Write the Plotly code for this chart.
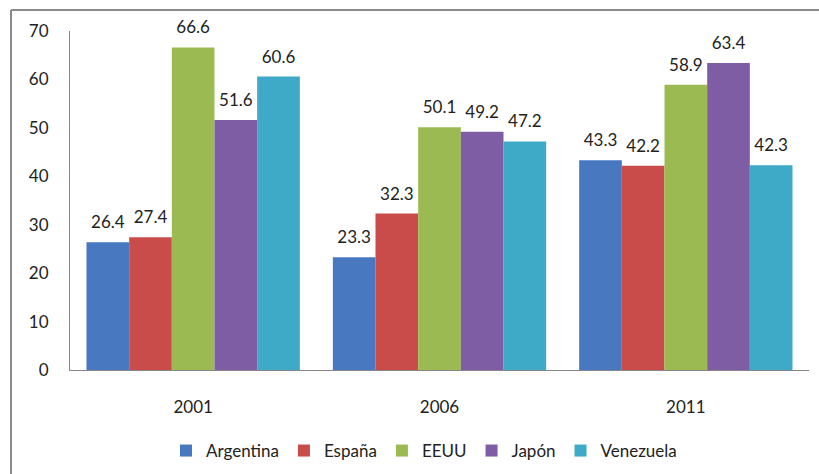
import plotly.graph_objects as go

years = ["2001", "2006", "2011"]
series_names = ["Argentina", "España", "EEUU", "Japón", "Venezuela"]
argentina = [26.4, 23.3, 43.3]
espana = [27.4, 32.3, 42.2]
eeuu = [66.6, 50.1, 58.9]
japon = [51.6, 49.2, 63.4]
venezuela = [60.6, 47.2, 42.3]
y_ticks = [0, 10, 20, 30, 40, 50, 60, 70]

series_values = [argentina, espana, eeuu, japon, venezuela]
colors = ["#4878BF", "#C94B4A", "#9BBB52", "#7F5DA5", "#3FA9C8"]

FONT = "Lato"
fig = go.Figure()
for name, vals, col in zip(series_names, series_values, colors):
    fig.add_trace(go.Bar(
        x=years, y=vals, name=name, offsetgroup=name,
        marker=dict(color=col, line=dict(width=0)),
        hoverinfo="skip",
    ))
for name, vals in zip(series_names, series_values):
    fig.add_trace(go.Scatter(
        x=years, y=vals, name=name, offsetgroup=name, showlegend=False,
        mode="markers+text",
        marker=dict(size=14, color="rgba(0,0,0,0)"),
        text=[f"{v:.1f}" for v in vals],
        textposition="top center",
        textfont=dict(size=17, color="#222222", family=FONT),
        cliponaxis=False, hoverinfo="skip",
    ))

W, H = 819, 474
L, R, T, B = 70, 10, 31, 104
pw, ph = W - L - R, H - T - B

fig.update_layout(
    width=W, height=H,
    barmode="group", bargap=0.134, bargroupgap=0,
    scattermode="group", scattergap=0.134,
    paper_bgcolor="white", plot_bgcolor="white",
    margin=dict(l=L, r=R, t=T, b=B, autoexpand=False),
    font=dict(family=FONT, size=17, color="#222222"),
    showlegend=True,
    legend=dict(orientation="h", x=(424 - L) / pw, xanchor="center",
                y=-(451 - (H - B)) / ph, yanchor="middle",
                font=dict(size=17, color="#222222", family=FONT),
                itemwidth=30, traceorder="normal", itemsizing="constant"),
    xaxis=dict(showline=True, linecolor="#868686", linewidth=1, ticks="",
               ticklabelstandoff=22, showgrid=False, tickfont=dict(size=17)),
    yaxis=dict(range=[0, 70], tickvals=y_ticks, showline=True, linecolor="#868686",
               linewidth=1, showgrid=False, zeroline=False, ticks="",
               ticklabelstandoff=17, tickfont=dict(size=17)),
    shapes=[
        dict(type="line", xref="paper", yref="paper",
             x0=(11 - L) / pw, x1=(W - L) / pw,
             y0=((H - B) - 10) / ph, y1=((H - B) - 10) / ph,
             line=dict(color="#8a8a8a", width=2)),
        dict(type="line", xref="paper", yref="paper",
             x0=(11 - L) / pw, x1=(11 - L) / pw,
             y0=((H - B) - 10) / ph, y1=-B / ph,
             line=dict(color="#8a8a8a", width=2)),
    ],
)

fig.write_html("out.html", config={"displayModeBar": False},
               post_script="document.body.style.margin='0';document.body.style.overflow='hidden';")
